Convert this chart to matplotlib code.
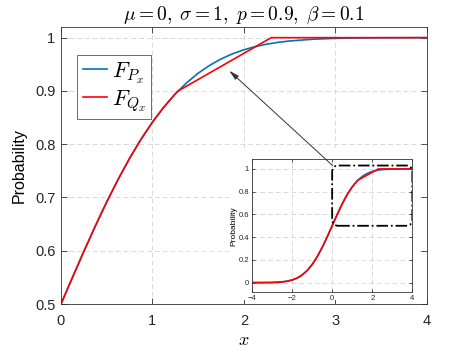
import numpy as np
import matplotlib
matplotlib.use("Agg")
from matplotlib import pyplot as plt
from matplotlib.patches import Rectangle, FancyBboxPatch, ConnectionPatch

plt.rcParams['font.family'] = ['Liberation Sans', 'DejaVu Sans']
plt.rcParams['mathtext.fontset'] = 'cm'

# normal CDF (mu=0, sigma=1)
x_p = [-4.0, -3.75, -3.5, -3.25, -3.0, -2.75, -2.5, -2.25, -2.0, -1.75, -1.5, -1.25,
       -1.0, -0.75, -0.5, -0.25, 0.0, 0.125, 0.25, 0.375, 0.5, 0.625, 0.75, 0.875,
       1.0, 1.125, 1.25, 1.375, 1.5, 1.625, 1.75, 1.875, 2.0, 2.125, 2.25, 2.375,
       2.5, 2.75, 3.0, 3.25, 3.5, 3.75, 4.0]
F_p = [0.0000, 0.0001, 0.0002, 0.0006, 0.0013, 0.0030, 0.0062, 0.0122, 0.0228, 0.0401,
       0.0668, 0.1056, 0.1587, 0.2266, 0.3085, 0.4013, 0.5000, 0.5497, 0.5987, 0.6462,
       0.6915, 0.7340, 0.7734, 0.8092, 0.8413, 0.8697, 0.8944, 0.9154, 0.9332, 0.9479,
       0.9599, 0.9696, 0.9772, 0.9832, 0.9878, 0.9912, 0.9938, 0.9970, 0.9987, 0.9994,
       0.9998, 0.9999, 1.0000]

# approximation: follows the CDF up to p=0.9, then straight to 1
x_q = [-4.0, -3.75, -3.5, -3.25, -3.0, -2.75, -2.5, -2.25, -2.0, -1.75, -1.5, -1.25,
       -1.0, -0.75, -0.5, -0.25, 0.0, 0.125, 0.25, 0.375, 0.5, 0.625, 0.75, 0.875,
       1.0, 1.125, 1.25, 1.2816, 2.3, 4.0]
F_q = [0.0000, 0.0001, 0.0002, 0.0006, 0.0013, 0.0030, 0.0062, 0.0122, 0.0228, 0.0401,
       0.0668, 0.1056, 0.1587, 0.2266, 0.3085, 0.4013, 0.5000, 0.5497, 0.5987, 0.6462,
       0.6915, 0.7340, 0.7734, 0.8092, 0.8413, 0.8697, 0.8944, 0.9000, 1.0000, 1.0000]

blue = '#0072BD'
red = '#FF0000'
axcol = '#333333'
gridcol = '#d9d9d9'


def style_axes(a, fs, ticklen, pad):
	for s in a.spines.values():
		s.set_color(axcol)
		s.set_linewidth(0.6)
	a.tick_params(direction='in', top=True, right=True, length=ticklen, width=0.6,
	              colors=axcol, labelsize=fs, labelcolor='#262626', pad=pad)
	a.grid(True, color=gridcol, linestyle=(0, (5, 3)), linewidth=0.7)
	a.set_axisbelow(True)


fig = plt.figure(figsize=(4.71, 3.53), dpi=100)
ax = fig.add_axes([0.1295, 0.1388, 0.7764, 0.7847])
l1, = ax.plot(x_p, F_p, color=blue, lw=1.2, label=r'$F_{P_x}$')
l2, = ax.plot(x_q, F_q, color=red, lw=1.2, label=r'$F_{Q_x}$')
ax.set_xlim(0, 4)
ax.set_ylim(0.5, 1.02)
ax.set_xticks([0, 1, 2, 3, 4])
ax.set_yticks([0.5, 0.6, 0.7, 0.8, 0.9, 1.0])
ax.set_yticklabels(['0.5', '0.6', '0.7', '0.8', '0.9', '1'])
style_axes(ax, 10.5, 4, 4)
ax.tick_params(axis='x', pad=7)
ax.set_xlabel(r'$x$', fontsize=13, labelpad=3)
ax.set_ylabel('Probability', fontsize=11.5, labelpad=6)
ax.set_title(r'$\mu=0,\;\sigma=1,\;p=0.9,\;\beta=0.1$', fontsize=14, pad=5)
leg = ax.legend(loc='upper left', bbox_to_anchor=(0.044, 0.9), borderaxespad=0,
                fontsize=16, handlelength=1.1, handletextpad=0.2, borderpad=0.25,
                labelspacing=0.1, fancybox=False, framealpha=1, edgecolor='#555555')
leg.get_frame().set_linewidth(0.6)

# white background behind the inset
bg = Rectangle((0.4926, 0.150), 0.392, 0.4306, transform=fig.transFigure,
               facecolor='white', edgecolor='none', zorder=1)
fig.add_artist(bg)

axins = fig.add_axes([0.535, 0.172, 0.3404, 0.3768], zorder=2)
axins.plot(x_p, F_p, color=blue, lw=1.2)
axins.plot(x_q, F_q, color=red, lw=1.2)
axins.set_xlim(-4, 4)
axins.set_ylim(-0.085, 1.085)
axins.set_xticks([-4, -2, 0, 2, 4])
axins.set_yticks([0, 0.2, 0.4, 0.6, 0.8, 1])
axins.set_yticklabels(['0', '0.2', '0.4', '0.6', '0.8', '1'])
style_axes(axins, 5.5, 2.5, 2)
axins.set_ylabel('Probability', fontsize=6, labelpad=1)

box = FancyBboxPatch((0.0, 0.5), 4.0, 0.53,
                     boxstyle='round,pad=0,rounding_size=0.3',
                     mutation_aspect=0.2, facecolor='none', edgecolor='black',
                     linestyle='-.', linewidth=1.3, zorder=5)
axins.add_patch(box)

arrow = ConnectionPatch(xyA=(0.02, 1.03), coordsA=axins.transData,
                        xyB=(1.84, 0.938), coordsB=ax.transData,
                        arrowstyle='-|>,head_length=0.6,head_width=0.15',
                        color='#333333', lw=0.7, zorder=6)
fig.add_artist(arrow)

fig.savefig('out.png', dpi=100)
